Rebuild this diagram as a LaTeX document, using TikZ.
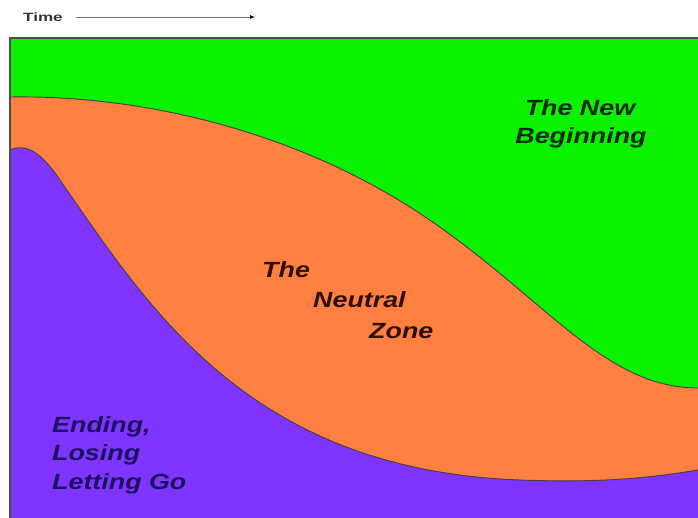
\documentclass[tikz,border=0pt]{standalone}
\usepackage{fontspec}
\setmainfont{Liberation Sans}
\usetikzlibrary{arrows.meta}
\definecolor{bgreen}{RGB}{10,242,0}
\definecolor{borange}{RGB}{255,128,64}
\definecolor{bpurple}{RGB}{128,52,255}
\definecolor{tgreen}{RGB}{0,45,0}
\definecolor{tbrown}{RGB}{45,15,0}
\definecolor{tnavy}{RGB}{25,20,95}
\newcommand\wtxt[1]{\scalebox{1.22}[1]{#1}}
\tikzset{
  lbl/.style={inner sep=0pt, font=\fontsize{22}{26}\selectfont\bfseries\itshape},
  edge/.style={line width=0.9pt, draw=black!75},
  frame/.style={line width=1.2pt, draw=black!70},
}
\begin{document}
\begin{tikzpicture}[x=1pt,y=-1pt]
\useasboundingbox (0,0) rectangle (698,518);
\fill[white] (0,0) rectangle (698,518);
% regions
\fill[bgreen] (10,38) rectangle (698,518);
\fill[borange] (10,97) .. controls (130,95) and (280,125) .. (410,207) .. controls (540,290) and (600,388) .. (698,388) -- (698,518) -- (10,518) -- cycle;
\fill[bpurple] (10,150) .. controls (26,143) and (41,152) .. (60,180) .. controls (150,310) and (250,470) .. (520,480) .. controls (600,483) and (650,478) .. (698,470) -- (698,518) -- (10,518) -- cycle;
\draw[edge] (10,97) .. controls (130,95) and (280,125) .. (410,207) .. controls (540,290) and (600,388) .. (698,388);
\draw[edge] (10,150) .. controls (26,143) and (41,152) .. (60,180) .. controls (150,310) and (250,470) .. (520,480) .. controls (600,483) and (650,478) .. (698,470);
\draw[frame] (10,518) -- (10,38) -- (698,38);
% time arrow
\node[inner sep=0pt, anchor=base west, font=\fontsize{12}{14}\selectfont\bfseries, text=black!80] (time) at (23,22) {\scalebox{1.42}[1]{Time}};
\coordinate (tend) at (255,17);
\draw[draw=black!55, line width=0.9pt, shorten <=13pt, -{Latex[length=5pt,width=4pt,black]}] (time.east |- tend) -- (tend);
% labels
\node[lbl, text=tgreen, anchor=base] (nb1) at (580,116) {\wtxt{The New}};
\node[lbl, text=tgreen, anchor=base] (nb2) at (581,144) {\wtxt{Beginning}};
\node[lbl, text=tbrown, anchor=base west] (nz1) at (262,278) {\wtxt{The}};
\node[lbl, text=tbrown, anchor=base west] (nz2) at (313,308) {\wtxt{Neutral}};
\node[lbl, text=tbrown, anchor=base west] (nz3) at (369,338) {\wtxt{Zone}};
\node[lbl, text=tnavy, anchor=base west] (en1) at (52,432) {\wtxt{Ending,}};
\node[lbl, text=tnavy, anchor=base west] (en2) at (52,460) {\wtxt{Losing}};
\node[lbl, text=tnavy, anchor=base west] (en3) at (52,489) {\wtxt{Letting Go}};
\end{tikzpicture}
\end{document}
